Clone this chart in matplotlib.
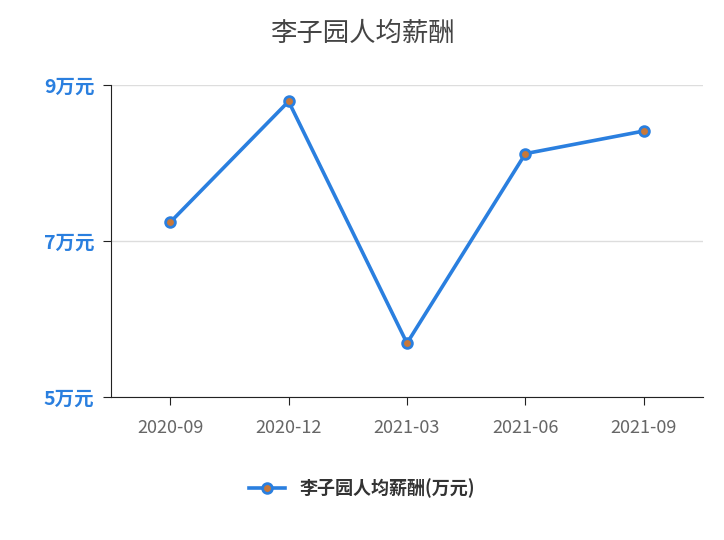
import matplotlib
matplotlib.use('Agg')
import matplotlib.pyplot as plt

plt.rcParams['font.family'] = ['Noto Sans CJK SC', 'DejaVu Sans']

categories = ['2020-09', '2020-12', '2021-03', '2021-06', '2021-09']
values = [7.24, 8.79, 5.69, 8.12, 8.41]
yticks = [5, 7, 9]
yticklabels = ['5万元', '7万元', '9万元']

fig = plt.figure(figsize=(7.24, 5.4), dpi=100)
ax = fig.add_axes([111/724, 143/540, 592/724, 312/540])
x = list(range(len(categories)))
ax.plot(x, values, color='#2a7fdf', lw=2.6, marker='o', ms=7,
        mfc='#c8783a', mec='#2a7fdf', mew=2, label='李子园人均薪酬(万元)')
ax.set_xlim(-0.5, len(categories) - 0.5)
ax.set_ylim(5, 9)
ax.set_yticks(yticks)
ax.set_yticklabels(yticklabels, color='#2a7fdf', fontsize=14, fontweight='bold')
ax.set_xticks(x)
ax.set_xticklabels(categories, color='#666666', fontsize=13)
ax.grid(axis='y', color='#dddddd', lw=1)
ax.set_axisbelow(True)
for s in ['top', 'right']:
    ax.spines[s].set_visible(False)
ax.spines['left'].set_color('#222222')
ax.spines['bottom'].set_color('#222222')
ax.tick_params(axis='x', length=6, color='#222222', pad=10)
ax.tick_params(axis='y', length=6, color='#222222', pad=6)
fig.text(0.5, 0.938, '李子园人均薪酬', ha='center', va='center', fontsize=19, color='#444444')
fig.legend(loc='center', bbox_to_anchor=(0.5, 0.095), frameon=False,
           prop={'size': 13, 'weight': 'bold'}, labelcolor='#333333')
fig.savefig('out.png', dpi=100)
